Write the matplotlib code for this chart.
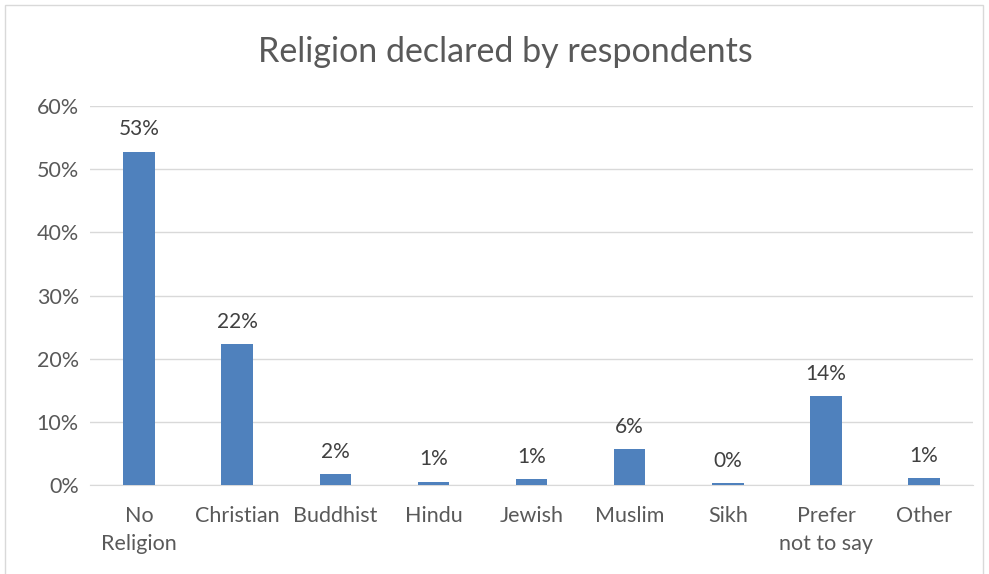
import matplotlib
matplotlib.use("Agg")
import matplotlib.pyplot as plt
from matplotlib.patches import Rectangle
from matplotlib.ticker import MultipleLocator, FuncFormatter

# data
categories = ["No\nReligion", "Christian", "Buddhist", "Hindu", "Jewish",
              "Muslim", "Sikh", "Prefer\nnot to say", "Other"]
values = [52.8, 22.3, 1.7, 0.5, 0.9, 5.7, 0.3, 14.1, 1.1]
labels = ["53%", "22%", "2%", "1%", "1%", "6%", "0%", "14%", "1%"]

plt.rcParams['font.family'] = ['Lato', 'DejaVu Sans']
txt = "#595959"

fig = plt.figure(figsize=(9.89, 5.74), dpi=100)
fig.patches.append(Rectangle((5 / 989, -0.1), 978 / 989, 1.1 - 5 / 574,
                             transform=fig.transFigure, fill=False,
                             edgecolor="#D9D9D9", linewidth=1))

ax = fig.add_axes([0.091, 0.155, 0.893, 0.660])
x = range(len(categories))
bars = ax.bar(x, values, width=0.32, color="#4F81BD", zorder=3)

for b, lab in zip(bars, labels):
    ax.annotate(lab, (b.get_x() + b.get_width() / 2, b.get_height()),
                xytext=(0, 9), textcoords="offset points",
                ha="center", va="bottom", fontsize=15, color="#404040")

ax.set_ylim(0, 60)
ax.set_xlim(-0.5, len(categories) - 0.5)
ax.yaxis.set_major_locator(MultipleLocator(10))
ax.yaxis.set_major_formatter(FuncFormatter(lambda v, p: f"{v:.0f}%"))
ax.grid(axis="y", color="#D9D9D9", linewidth=1, zorder=0)
ax.set_xticks(list(x))
ax.set_xticklabels(categories, fontsize=15.5, color=txt, linespacing=1.5)
ax.tick_params(axis="y", labelsize=15.5, labelcolor=txt, length=0, pad=8)
ax.tick_params(axis="x", length=0, pad=15)
for s in ["top", "right", "left"]:
    ax.spines[s].set_visible(False)
ax.spines["bottom"].set_color("#D9D9D9")

fig.text(0.511, 0.909, "Religion declared by respondents", ha="center",
         va="center", fontsize=24.5, color=txt)

fig.savefig("out.png", dpi=100)
